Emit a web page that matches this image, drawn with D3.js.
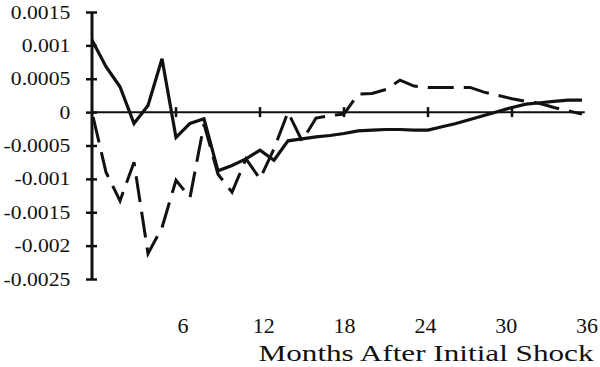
<!DOCTYPE html>
<html>
<head>
<meta charset="utf-8">
<script src="https://cdn.jsdelivr.net/npm/d3@7"></script>
<style>
  html, body { margin: 0; padding: 0; background: #fff; }
  svg { display: block; }
  text { font-family: "Liberation Serif", "Times New Roman", serif; fill: #111; }
</style>
</head>
<body>
<svg id="chart" width="600" height="367"></svg>
<script>
// ---- data ----
const months = [0,1,2,3,4,5,6,7,8,9,10,11,12,13,14,15,16,17,18,19,20,21,22,23,24,25,26,27,28,29,30,31,32,33,34,35];
const solidSeries = [0.00108,0.00068,0.00038,-0.00017,0.0001,0.0008,-0.00038,-0.00017,-0.0001,-0.00088,
  -0.0008,-0.0007,-0.00057,-0.00072,-0.00043,-0.0004,-0.00037,-0.00035,-0.00032,-0.00028,
  -0.00027,-0.00026,-0.00026,-0.00027,-0.00027,-0.00022,-0.00017,-0.00011,-0.00005,0.00001,
  0.00007,0.00012,0.00014,0.00016,0.00018,0.00018];
const dashedSeries = [0,-0.0009,-0.00133,-0.00075,-0.00212,-0.00173,-0.00102,-0.00128,-0.00018,-0.00093,
  -0.0012,-0.0007,-0.001,-0.00055,0.0,-0.00043,-0.00009,-0.00005,-0.00003,0.00027,
  0.00028,0.00034,0.00048,0.00039,0.00037,0.00037,0.00037,0.00037,0.0003,0.00025,
  0.0002,0.00016,0.00013,0.00007,0.00002,-0.00003];
const yTicks = [0.0015,0.001,0.0005,0,-0.0005,-0.001,-0.0015,-0.002,-0.0025];
const yTickLabels = ["0.0015","0.001","0.0005","0","-0.0005","-0.001","-0.0015","-0.002","-0.0025"];
const xTicks = [6,12,18,24,30];
const xLabels = [6,12,18,24,30,36];
const xTitle = "Months After Initial Shock";

// ---- scales ----
const svg = d3.select("#chart");
const x = d3.scaleLinear().domain([0, 36]).range([92, 596]);
const y = d3.scaleLinear().domain([-0.0025, 0.0015]).range([279, 12]);
const xLab = d3.scaleLinear().domain([6, 36]).range([183, 587]);

// ---- y axis ----
const yAxis = d3.axisLeft(y).tickValues(yTicks)
  .tickFormat((d, i) => yTickLabels[i]).tickSize(6).tickPadding(14);
const gy = svg.append("g").attr("transform", `translate(${x(0)},0)`).call(yAxis);
gy.select(".domain").attr("stroke", "#111").attr("stroke-width", 3)
  .attr("d", `M0,${y(0.0015)}V${y(-0.0025)}`);
gy.selectAll(".tick line").attr("x1", 5).attr("x2", -6).attr("stroke", "#111").attr("stroke-width", 2.5);
gy.selectAll(".tick text").attr("font-size", 19)
  .attr("transform", "scale(1.14,1)").attr("x", -19);

// ---- x axis ----
const gx = svg.append("g");
gx.append("line").attr("x1", x(0)).attr("x2", x(35.2)).attr("y1", y(0)).attr("y2", y(0))
  .attr("stroke", "#111").attr("stroke-width", 2);
gx.selectAll("line.xt").data(xTicks).enter().append("line").attr("class", "xt")
  .attr("x1", d => x(d)).attr("x2", d => x(d)).attr("y1", y(0) - 5).attr("y2", y(0) + 5)
  .attr("stroke", "#111").attr("stroke-width", 2.5);
gx.selectAll("text.xl").data(xLabels).enter().append("text").attr("class", "xl")
  .attr("x", d => xLab(d)).attr("y", 333).attr("text-anchor", "middle")
  .attr("font-size", 22).text(d => d);
svg.append("text").attr("x", 426).attr("y", 361).attr("text-anchor", "middle")
  .attr("font-size", 23).attr("textLength", 335).attr("lengthAdjust", "spacingAndGlyphs")
  .text(xTitle);

// ---- lines ----
const line = d3.line().x((d, i) => x(months[i])).y(d => y(d));
svg.append("path").datum(dashedSeries).attr("d", line)
  .attr("fill", "none").attr("stroke", "#111").attr("stroke-width", 3)
  .attr("stroke-dasharray", "26,10").attr("stroke-dashoffset", -5);
svg.append("path").datum(solidSeries).attr("d", line)
  .attr("fill", "none").attr("stroke", "#111").attr("stroke-width", 3.2)
  .attr("stroke-linejoin", "miter");
</script>
</body>
</html>
